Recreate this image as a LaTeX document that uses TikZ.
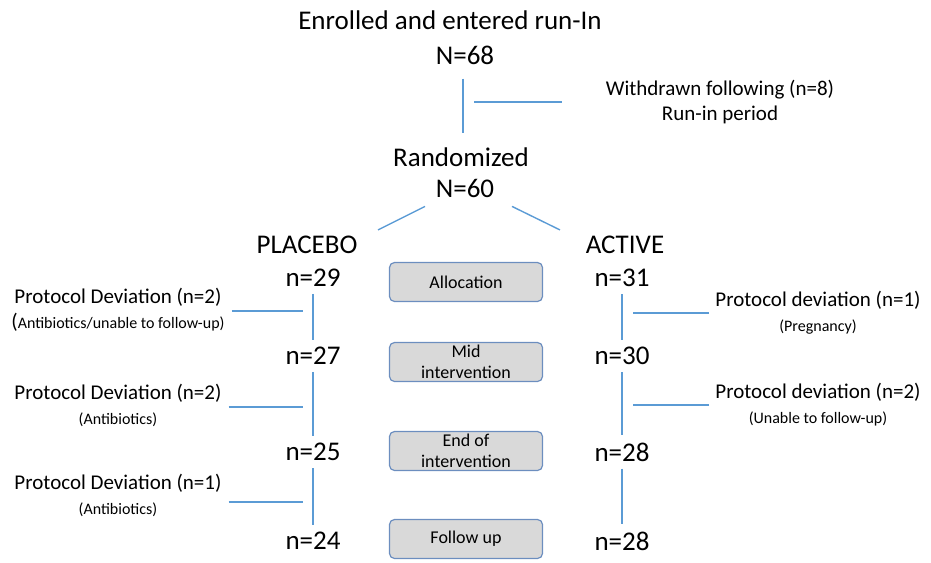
\documentclass[tikz,border=0pt]{standalone}
\usepackage{fontspec}
\setmainfont{Carlito}
\usepackage{tikz}
\usetikzlibrary{positioning,calc}
\definecolor{flowblue}{HTML}{5B9BD5}
\definecolor{boxedge}{HTML}{6C8EBF}
\definecolor{boxfill}{HTML}{D9D9D9}
\newcommand{\devnote}{\fontsize{16}{19}\selectfont}

\begin{document}
\begin{tikzpicture}[x=1pt, y=-1pt, every node/.style={inner sep=0pt, align=center},
    big/.style={font=\fontsize{27}{32}\selectfont},
    dev/.style={font=\fontsize{21}{25}\selectfont},
    phase/.style={draw=boxedge, fill=boxfill, rounded corners=5pt, line width=1.2pt, minimum width=153pt, minimum height=39pt, font=\fontsize{18}{21}\selectfont},
    flow/.style={flowblue, line width=1.4pt}]
  \useasboundingbox (0,0) rectangle (931,562);
  % enrolment and run-in
  \node[big] (enrol) at (450,20) {Enrolled and entered run-In};
  \node[big] (n68) at (465,55) {N=68};
  \node[dev] (wd) at (720,102) {Withdrawn following (n=8)\\Run-in period};
  \node[big] (randlbl) at (461,157) {Randomized};
  \node[big] (n60) at (465,188) {N=60};
  % arms
  \node[big] (placebo) at (307,245) {PLACEBO};
  \node[big] (active) at (625,245) {ACTIVE};
  \node[big] (p29) at (313,278) {n=29};
  \node[big] (p27) at (313,356) {n=27};
  \node[big] (p25) at (313,452) {n=25};
  \node[big] (p24) at (313,541) {n=24};
  \node[big] (a31) at (622,278) {n=31};
  \node[big] (a30) at (622,356) {n=30};
  \node[big] (a28) at (622,452) {n=28};
  \node[big] (a28b) at (622,541) {n=28};
  % study phases
  \node[phase] (alloc) at (466,282) {Allocation};
  \node[phase] (mid) at (466,362) {Mid\\intervention};
  \node[phase] (eoi) at (466,451) {End of\\intervention};
  \node[phase] (fu) at (466,539) {Follow up};
  % deviations
  \node[dev] (ldev1) at (118,310) {Protocol Deviation (n=2)\\({\devnote Antibiotics/unable to follow-up)}};
  \node[dev] (ldev2) at (118,405) {Protocol Deviation (n=2)\\{\devnote (Antibiotics)}};
  \node[dev] (ldev3) at (118,495) {Protocol Deviation (n=1)\\{\devnote (Antibiotics)}};
  \node[dev] (rdev1) at (818,313) {Protocol deviation (n=1)\\{\devnote (Pregnancy)}};
  \node[dev] (rdev2) at (818,405) {Protocol deviation (n=2)\\{\devnote (Unable to follow-up)}};
  % connectors
  \draw[flow, shorten <=14pt, shorten >=14pt] ([xshift=-2pt]n68.south) -- ([xshift=-2pt]n68.south |- randlbl.north);
  \draw[flow, shorten <=44pt, shorten >=9pt] (wd.west) -- (wd.west -| n68);
  \draw[flow] ([shift={(-40,9)}]n60.south) -- ([shift={(71,-6)}]placebo.north);
  \draw[flow] ([shift={(47,9)}]n60.south) -- ([shift={(-65,-6)}]active.north);
  \foreach \a/\b in {p29/p27,p27/p25,p25/p24,a31/a30,a30/a28,a28/a28b}{\draw[flow, shorten <=7pt, shorten >=7pt] (\a) -- (\b);}
  \foreach \d/\n/\dy in {ldev1/p29/1,ldev2/p27/2,ldev3/p25/7}{\draw[flow, shorten <=7pt, shorten >=10pt] ([yshift=-\dy pt]\d.east) -- ([yshift=-\dy pt]\d.east -| \n);}
  \foreach \d/\n in {rdev1/a31,rdev2/a30}{\draw[flow, shorten <=6pt, shorten >=11pt] (\d.west) -- (\d.west -| \n);}
\end{tikzpicture}
\end{document}
